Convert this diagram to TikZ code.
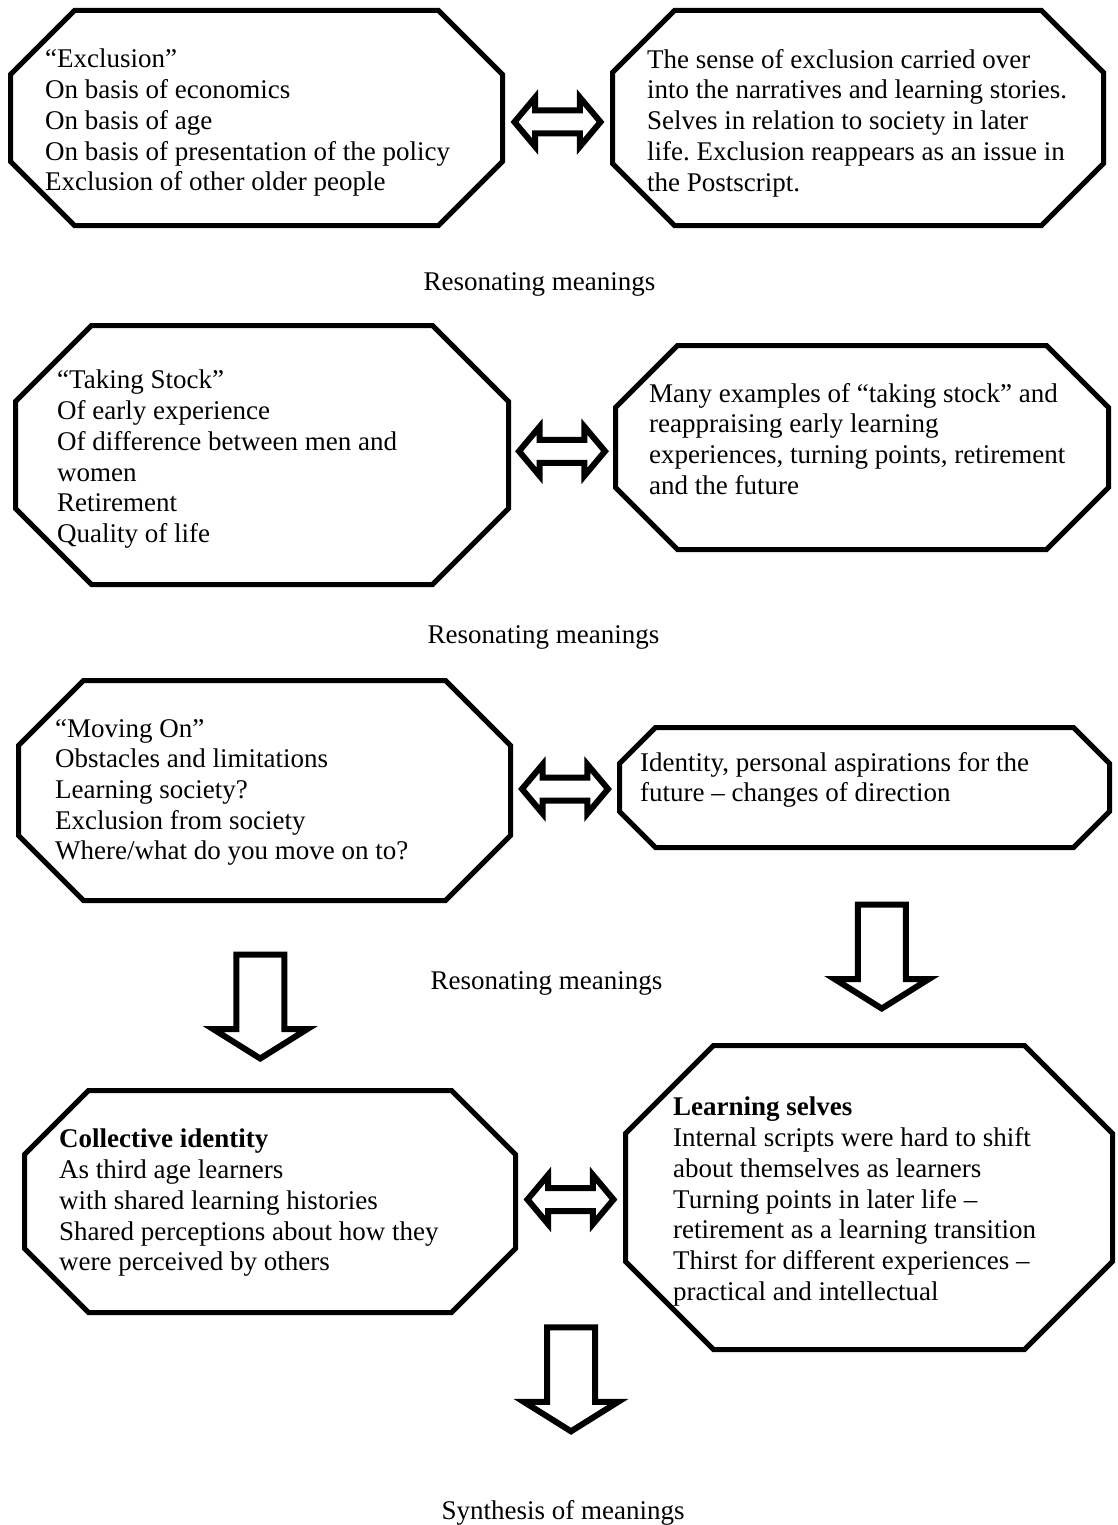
\documentclass[tikz,border=0pt]{standalone}
\usepackage{fontspec}
\setmainfont{Liberation Serif}
\usetikzlibrary{calc,shapes.arrows}
\frenchspacing
% Achteck ueber einem unsichtbaren Rechteckknoten (Name, Abschnitt)
\newcommand\chamferbox[2]{%
  \draw[boxline] ($(#1.north west)+(#2,0)$) -- ($(#1.north east)+(-#2,0)$)
    -- ($(#1.north east)+(0,#2)$) -- ($(#1.south east)+(0,-#2)$)
    -- ($(#1.south east)+(-#2,0)$) -- ($(#1.south west)+(#2,0)$)
    -- ($(#1.south west)+(0,-#2)$) -- ($(#1.north west)+(0,#2)$) -- cycle;}
\tikzset{
  boxline/.style={line width=5pt,line join=miter},
  area/.style={draw=none,inner sep=0pt,outer sep=0pt},
  txt/.style={anchor=north west,align=left,inner sep=0pt,
    font=\fontsize{27}{30.7}\selectfont},
  caption/.style={anchor=base,inner sep=0pt,font=\fontsize{27}{30.7}\selectfont},
  dblarrow/.style={double arrow,draw,line width=6pt,inner xsep=0pt,inner ysep=8.5pt,
    double arrow head extend=13pt,double arrow tip angle=100,
    minimum height=86pt,minimum width=43pt},
  dnarrow/.style={single arrow,draw,line width=6pt,inner xsep=0pt,inner ysep=21pt,
    rotate=-90,single arrow head extend=23pt,
    single arrow tip angle=116,minimum height=104pt,minimum width=88pt}
}
\begin{document}
\begin{tikzpicture}[x=1pt,y=-1pt]
\useasboundingbox (0,0) rectangle (1117,1525);
% Rahmen der Kaesten
\node[area,minimum width=492pt,minimum height=215pt] (excl)  at (256.5,118)  {};
\node[area,minimum width=491pt,minimum height=215pt] (exclR) at (858,118)    {};
\node[area,minimum width=493pt,minimum height=259pt] (stock) at (262,455)    {};
\node[area,minimum width=493pt,minimum height=204pt] (stockR) at (862,447.5) {};
\node[area,minimum width=492pt,minimum height=220pt] (mov)   at (264.5,790.5) {};
\node[area,minimum width=490pt,minimum height=120pt] (movR)  at (864.5,787.5) {};
\node[area,minimum width=491pt,minimum height=222pt] (coll)  at (270,1201.5) {};
\node[area,minimum width=487pt,minimum height=304pt] (lrn)   at (869,1197.5) {};
\chamferbox{excl}{64}
\chamferbox{exclR}{62}
\chamferbox{stock}{76}
\chamferbox{stockR}{62}
\chamferbox{mov}{65}
\chamferbox{movR}{36}
\chamferbox{coll}{64}
\chamferbox{lrn}{88}
% Texte
\node[txt] (exclT) at (45,49) {“Exclusion”\\On basis of economics\\On basis of age\\
  On basis of presentation of the policy\\Exclusion of other older people};
\node[txt] (exclRT) at (647,49) {The sense of exclusion carried over\\
  into the narratives and learning stories.\\Selves in relation to society in later\\
  life. Exclusion reappears as an issue in\\the Postscript.};
\node[txt] (stockT) at (57,370) {“Taking Stock”\\Of early experience\\
  Of difference between men and\\women\\Retirement\\Quality of life};
\node[txt] (stockRT) at (649,383) {Many examples of “taking stock” and\\
  reappraising early learning\\experiences, turning points, retirement\\and the future};
\node[txt] (movT) at (55,719) {“Moving On”\\Obstacles and limitations\\Learning society?\\
  Exclusion from society\\Where/what do you move on to?};
\node[txt] (movRT) at (640,752) {Identity, personal aspirations for the\\
  future – changes of direction};
\node[txt] (collT) at (59,1129) {\textbf{Collective identity}\\As third age learners\\
  with shared learning histories\\Shared perceptions about how they\\were perceived by others};
\node[txt] (lrnT) at (673,1097) {\textbf{Learning selves}\\Internal scripts were hard to shift\\
  about themselves as learners\\Turning points in later life –\\
  retirement as a learning transition\\Thirst for different experiences –\\
  practical and intellectual};
% Zwischentitel
\node[caption] (res1) at (539.5,290)  {Resonating meanings};
\node[caption] (res2) at (543.5,643)  {Resonating meanings};
\node[caption] (res3) at (546.5,989)  {Resonating meanings};
\node[caption] (syn)  at (563,1519)   {Synthesis of meanings};
% Doppelpfeile zwischen den Kaesten
\node[dblarrow,yshift=-4pt] (a1) at ($(excl.east)!0.5!(exclR.west)$)   {};
\node[dblarrow] (a2) at ($(stock.east)!0.5!(stockR.west)$) {};
\node[dblarrow] (a3) at ($(mov.east)!0.5!(movR.west)$)     {};
\node[dblarrow] (a4) at ($(coll.east)!0.5!(lrn.west)$)     {};
% Pfeile nach unten
\node[dnarrow] (dL) at ($(mov.south)!0.5!(coll.north)+(-7,3.5)$) {};
\node[dnarrow] (dR) at ($(movR.south)!0.5!(lrn.north)+(15,2.5)$) {};
\node[dnarrow] (dB) at ($(syn.north)+(8,-128)$) {};
\end{tikzpicture}
\end{document}
